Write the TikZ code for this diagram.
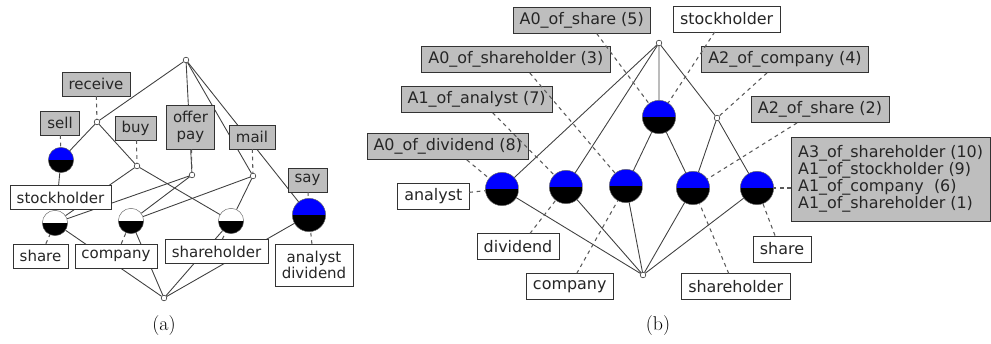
\documentclass[tikz,border=0pt]{standalone}
\usepackage{fontspec}
\newfontfamily\lattfont{DejaVu Sans}
\usetikzlibrary{positioning,calc}
\definecolor{lblgray}{RGB}{190,190,190}
\definecolor{cblue}{RGB}{0,0,255}
\tikzset{
  link/.style={black!75, line width=0.75pt},
  lbl/.style={black!65, line width=0.9pt, dash pattern=on 3.2pt off 3.2pt},
  knot/.style={circle, draw=black!80, fill=white, inner sep=0pt, minimum size=0.17cm, line width=0.5pt},
  concept/.style={circle, draw=black!60, line width=0.4pt, inner sep=0pt, path picture={
      \fill[#1] (path picture bounding box.north west) rectangle (path picture bounding box.east);
      \fill[black] (path picture bounding box.west) rectangle (path picture bounding box.south east);}},
  attra/.style={draw=black!80, fill=lblgray, text=black!85, font=\lattfont\fontsize{12.8}{14.2}\selectfont,
      inner xsep=0.2cm, inner ysep=0.1cm, minimum height=0.72cm, align=center},
  obja/.style={attra, fill=white},
  attrb/.style={draw=black!80, fill=lblgray, text=black!85, font=\lattfont\fontsize{13.6}{14.6}\selectfont,
      inner xsep=0.2cm, inner ysep=0.1cm, minimum height=0.78cm, align=center},
  objb/.style={attrb, fill=white},
}

\begin{document}
\begin{tikzpicture}[x=0.03cm, y=-0.03cm]
  \useasboundingbox (0,0) rectangle (991,344);

  % ---------- (a) lattice nodes
  \node[knot] (topa) at (186,60) {};
  \node[knot] (recv) at (97,122) {};
  \node[knot] (buy) at (137,166) {};
  \node[knot] (offer) at (192,175) {};
  \node[knot] (mail) at (253,176) {};
  \node[concept=cblue, minimum size=0.76cm] (sell) at (61,160) {};
  \node[concept=white, minimum size=0.76cm] (sharea) at (55,223) {};
  \node[concept=white, minimum size=0.76cm] (companya) at (131,221) {};
  \node[concept=white, minimum size=0.76cm] (holdera) at (231,221) {};
  \node[concept=cblue, minimum size=1cm] (say) at (309,215) {};
  \node[knot] (bota) at (164,298) {};

  % (a) edges
  \draw[link] (topa) -- (recv) -- (sell) -- (sharea);
  \draw[link] (recv) -- (buy) -- (holdera);
  \draw[link] (topa) -- (offer);
  \draw[link] (topa) -- (mail);
  \draw[link] (topa) -- (say) -- (bota);
  \draw[link] (buy) -- (sharea) -- (offer) -- (companya) -- (mail) -- (holdera) -- (bota);
  \draw[link] (sharea) -- (bota);
  \draw[link] (companya) -- (bota);

  % (a) labels
  \node[attra] (receivel) at (96,84) {receive};
  \node[attra] (selll) at (60,123) {sell};
  \node[attra] (buyl) at (135.5,128) {buy};
  \node[attra, inner ysep=0.2cm] (offerl) at (190.5,127) {offer\\pay};
  \node[attra] (maill) at (252,137) {mail};
  \node[attra] (sayl) at (307.5,180) {say};
  \node[obja] (stockl) at (60.5,197.5) {stockholder};
  \node[obja] (sharel) at (40.5,256) {share};
  \node[obja] (companyl) at (116,256) {company};
  \node[obja] (holderl) at (216.5,251.5) {shareholder};
  \node[obja, inner ysep=0.2cm] (anadivl) at (314,265) {analyst\\dividend};

  \draw[lbl] (receivel) -- (recv);
  \draw[lbl] (selll) -- (sell);
  \draw[lbl] ($(buyl.south)+(1,0)$) -- (buy);
  \draw[lbl] ($(offerl.south)+(1,0)$) -- (offer);
  \draw[lbl] (maill) -- (mail);
  \draw[lbl] (sayl) -- (say);
  \draw[lbl] (sharel) -- (sharea);
  \draw[lbl] (companyl) -- (companya);
  \draw[lbl] (holderl) -- (holdera);
  \draw[lbl] (anadivl) -- (say);

  % ---------- (b) lattice nodes
  \node[knot] (topb) at (659,43) {};
  \node[concept=cblue, minimum size=1cm] (upper) at (659,117) {};
  \node[knot] (midb) at (717,118) {};
  \node[concept=cblue, minimum size=1cm] (analystb) at (502,189) {};
  \node[concept=cblue, minimum size=1cm] (dividendb) at (566,187) {};
  \node[concept=cblue, minimum size=1cm] (companyb) at (626,186) {};
  \node[concept=cblue, minimum size=1cm] (holderb) at (693,188) {};
  \node[concept=cblue, minimum size=1cm] (shareb) at (757,188) {};
  \node[knot] (botb) at (643,275) {};

  % (b) edges
  \draw[link] (topb) -- (analystb) -- (botb);
  \draw[link] (topb) -- (dividendb) -- (botb);
  \draw[link] (topb) -- (upper) -- (companyb) -- (botb);
  \draw[link] (upper) -- (holderb) -- (botb);
  \draw[link] (topb) -- (midb) -- (shareb) -- (botb);
  \draw[link] (midb) -- (holderb);

  % (b) labels
  \node[attrb] (a0share) at (581.7,20.3) {A0\_of\_share (5)};
  \node[attrb] (a0holder) at (515.8,59.7) {A0\_of\_shareholder (3)};
  \node[attrb] (a1analyst) at (476.7,99.5) {A1\_of\_analyst (7)};
  \node[attrb] (a0dividend) at (447.8,146.7) {A0\_of\_dividend (8)};
  \node[objb] (analystl) at (433.3,196) {analyst};
  \node[objb] (dividendl) at (518,246.7) {dividend};
  \node[objb] (companybl) at (569.7,286.7) {company};
  \node[objb] (stockbl) at (726.7,18.8) {stockholder};
  \node[attrb] (a2company) at (785,59.7) {A2\_of\_company (4)};
  \node[attrb] (a2share) at (820,109.7) {A2\_of\_share (2)};
  \node[attrb, anchor=east, align=left, inner ysep=0.25cm] (manyl) at (990,179)
      {A3\_of\_shareholder (10)\\A1\_of\_stockholder (9)\\A1\_of\_company \ (6)\\A1\_of\_shareholder (1)};
  \node[objb] (sharebl) at (782,248.8) {share};
  \node[objb] (holderbl) at (735.7,286.7) {shareholder};

  \draw[lbl] ($(a0share.south)+(15,0)$) -- (upper);
  \draw[lbl] ($(a0holder.south)+(14,0)$) -- (companyb);
  \draw[lbl] ($(a1analyst.south)+(16,0)$) -- (dividendb);
  \draw[lbl] ($(a0dividend.south)+(19,0)$) -- (analystb);
  \draw[lbl] (analystl) -- (analystb);
  \draw[lbl] ($(dividendl.north)+(12,0)$) -- (dividendb);
  \draw[lbl] ($(companybl.north)+(7,0)$) -- (companyb);
  \draw[lbl] ($(stockbl.south)+(-12,0)$) -- (upper);
  \draw[lbl] ($(a2company.south)+(-18,0)$) -- (midb);
  \draw[lbl] ($(a2share.south)+(-23,0)$) -- (holderb);
  \draw[lbl] (manyl.west |- shareb) -- (shareb);
  \draw[lbl] ($(sharebl.north)+(-7,0)$) -- (shareb);
  \draw[lbl] ($(holderbl.north)+(-7,0)$) -- (holderb);

  % captions
  \node[font=\fontsize{17}{19}\selectfont] (capa) at (164,326) {(a)};
  \node[font=\fontsize{17}{19}\selectfont] (capb) at (658,326) {(b)};
\end{tikzpicture}
\end{document}
